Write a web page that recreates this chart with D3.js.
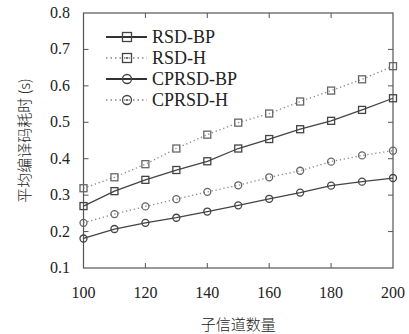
<!DOCTYPE html>
<html>
<head>
<meta charset="utf-8">
<script src="https://cdn.jsdelivr.net/npm/d3@7"></script>
<style>
  body { margin: 0; background: #fff; }
  svg { display: block; }
  .tick-label { font-family: "Liberation Serif", "DejaVu Serif", serif; font-size: 16px; fill: #222; }
  .cjk { font-family: "Noto Sans CJK SC", sans-serif; font-size: 15px; fill: #222; font-weight: 300; }
</style>
</head>
<body>
<svg id="chart"></svg>
<script>
var width = 409,
    height = 334,
    margin = { left: 83.5, right: 16, top: 13, bottom: 66 },
    axisColor = '#555',
    tickLen = 5;

// channel counts
var channels = [100, 110, 120, 130, 140, 150, 160, 170, 180, 190, 200];
var xTicks = [100, 120, 140, 160, 180, 200];
var yTicks = [0.1, 0.2, 0.3, 0.4, 0.5, 0.6, 0.7, 0.8];

// average decoding time (s)
var rsdBP = [0.270, 0.311, 0.342, 0.369, 0.393, 0.428, 0.454, 0.481, 0.504, 0.534, 0.566];
var rsdH = [0.319, 0.349, 0.385, 0.428, 0.466, 0.499, 0.524, 0.557, 0.587, 0.618, 0.654];
var cprsdBP = [0.181, 0.207, 0.224, 0.238, 0.255, 0.272, 0.290, 0.307, 0.326, 0.337, 0.347];
var cprsdH = [0.224, 0.248, 0.269, 0.289, 0.309, 0.327, 0.349, 0.367, 0.392, 0.409, 0.422];

var seriesNames = ['RSD-BP', 'RSD-H', 'CPRSD-BP', 'CPRSD-H'];
var seriesValues = [rsdBP, rsdH, cprsdBP, cprsdH];
var seriesMarker = ['square', 'square', 'circle', 'circle'];
var seriesDotted = [false, true, false, true];

var svg = d3.select('#chart')
    .attr('width', width)
    .attr('height', height);

var x = d3.scaleLinear()
    .domain([100, 200])
    .range([margin.left, width - margin.right]);

var y = d3.scaleLinear()
    .domain([0.1, 0.8])
    .range([height - margin.bottom, margin.top]);

var x0 = x.range()[0], x1 = x.range()[1],
    y0 = y.range()[0], y1 = y.range()[1];

// inward ticks on all four sides
var ticks = svg.append('g')
    .attr('stroke', axisColor)
    .attr('stroke-width', 1);

xTicks.slice(1, -1).forEach(function(t) {
    ticks.append('line').attr('x1', x(t)).attr('x2', x(t)).attr('y1', y0).attr('y2', y0 - tickLen);
    ticks.append('line').attr('x1', x(t)).attr('x2', x(t)).attr('y1', y1).attr('y2', y1 + tickLen);
});
yTicks.slice(1, -1).forEach(function(t) {
    ticks.append('line').attr('x1', x0).attr('x2', x0 + tickLen).attr('y1', y(t)).attr('y2', y(t));
    ticks.append('line').attr('x1', x1).attr('x2', x1 - tickLen).attr('y1', y(t)).attr('y2', y(t));
});

svg.append('rect')
    .attr('x', x0)
    .attr('y', y1)
    .attr('width', x1 - x0)
    .attr('height', y0 - y1)
    .attr('fill', 'none')
    .attr('stroke', axisColor)
    .attr('stroke-width', 1.2);

// tick labels
svg.selectAll('.xlab')
    .data(xTicks)
    .enter().append('text')
    .attr('class', 'tick-label')
    .attr('x', function(d) { return x(d); })
    .attr('y', 298)
    .attr('text-anchor', 'middle')
    .text(function(d) { return d; });

svg.selectAll('.ylab')
    .data(yTicks)
    .enter().append('text')
    .attr('class', 'tick-label')
    .attr('x', 70)
    .attr('y', function(d) { return y(d) + 5; })
    .attr('text-anchor', 'end')
    .text(function(d) { return d3.format('.1f')(d); });

// axis titles
svg.append('text')
    .attr('class', 'cjk')
    .attr('x', (x0 + x1) / 2)
    .attr('y', 330)
    .attr('text-anchor', 'middle')
    .text('子信道数量');

svg.append('text')
    .attr('class', 'cjk')
    .attr('transform', 'translate(30,' + ((y0 + y1) / 2) + ') rotate(-90)')
    .attr('text-anchor', 'middle')
    .text('平均编译码耗时 (s)');

function drawMarker(g, type, cx, cy, size, dotted) {
    if (type == 'square') {
        g.append('rect')
            .attr('x', cx - size / 2)
            .attr('y', cy - size / 2)
            .attr('width', size)
            .attr('height', size)
            .attr('fill', 'none')
            .attr('stroke', dotted ? '#666' : '#444')
            .attr('stroke-width', 1.3);
    } else {
        g.append('circle')
            .attr('cx', cx)
            .attr('cy', cy)
            .attr('r', size / 2)
            .attr('fill', 'none')
            .attr('stroke', dotted ? '#666' : '#444')
            .attr('stroke-width', 1.3);
    }
}

var line = d3.line()
    .x(function(d, i) { return x(channels[i]); })
    .y(function(d) { return y(d); });

seriesValues.forEach(function(vals, s) {
    var g = svg.append('g');
    g.append('path')
        .datum(vals)
        .attr('d', line)
        .attr('fill', 'none')
        .attr('stroke', seriesDotted[s] ? '#888' : '#444')
        .attr('stroke-width', 1.3)
        .attr('stroke-dasharray', seriesDotted[s] ? '1.3,2.7' : null);
    vals.forEach(function(v, i) {
        drawMarker(g, seriesMarker[s], x(channels[i]), y(v), 7, seriesDotted[s]);
    });
});

// legend
var legendY = [37, 58, 79, 100];
seriesNames.forEach(function(name, s) {
    var g = svg.append('g');
    g.append('line')
        .attr('x1', 106).attr('x2', 147)
        .attr('y1', legendY[s]).attr('y2', legendY[s])
        .attr('stroke', seriesDotted[s] ? '#888' : '#333')
        .attr('stroke-width', seriesDotted[s] ? 1.5 : 1.8)
        .attr('stroke-dasharray', seriesDotted[s] ? '1.5,3' : null);
    drawMarker(g, seriesMarker[s], 127, legendY[s], 9, false);
    if (seriesDotted[s]) {
        g.append('circle')
            .attr('cx', 127).attr('cy', legendY[s]).attr('r', 1)
            .attr('fill', '#444');
    }
    g.append('text')
        .attr('class', 'tick-label')
        .attr('x', 152)
        .attr('y', legendY[s] + 6)
        .style('font-size', '18px')
        .text(name);
});
</script>
</body>
</html>
